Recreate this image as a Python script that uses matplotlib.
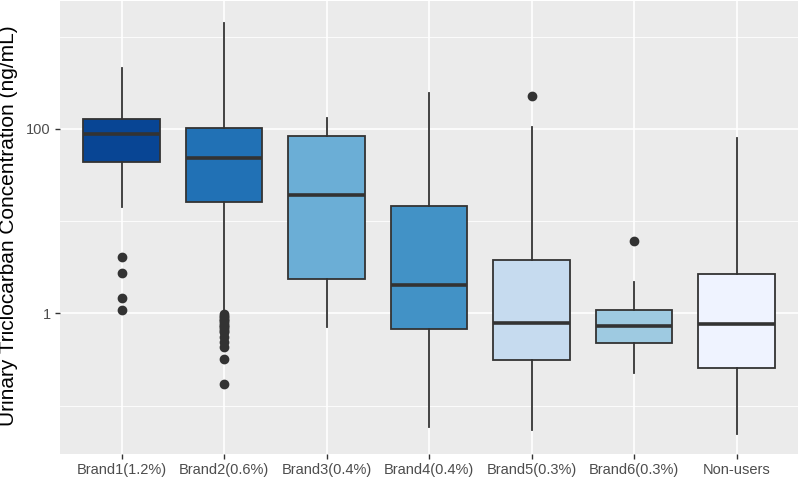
import matplotlib
matplotlib.use("Agg")
import matplotlib.pyplot as plt
import numpy as np

categories = ["Brand1(1.2%)", "Brand2(0.6%)", "Brand3(0.4%)", "Brand4(0.4%)",
              "Brand5(0.3%)", "Brand6(0.3%)", "Non-users"]
# box statistics in log10(ng/mL)
whisk_lo = [1.153, 0.036, -0.145, -1.232, -1.269, -0.642, -1.305]
q1       = [1.639, 1.203, 0.369, -0.174, -0.506, -0.321, -0.593]
median   = [1.949, 1.686, 1.279, 0.306, -0.102, -0.137, -0.112]
q3       = [2.103, 2.007, 1.927, 1.163, 0.576, 0.033, 0.432]
whisk_hi = [2.659, 3.149, 2.118, 2.385, 2.025, 0.342, 1.902]
outliers = [
    [0.616, 0.438, 0.165, 0.039],
    [-0.008, -0.024, -0.040, -0.056, -0.072, -0.088, -0.105, -0.121, -0.137,
     -0.153, -0.170, -0.186, -0.202, -0.256, -0.311, -0.365, -0.494, -0.765],
    [], [], [2.357], [0.782], [],
]
colors = ["#084594", "#2171B5", "#6BAED6", "#4292C6", "#C6DBEF", "#9ECAE1", "#EFF3FF"]
yticks = [1, 100]
yminor = [0.1, 10, 1000]

plt.rcParams['font.family'] = ['Liberation Sans', 'DejaVu Sans']

fig = plt.figure(figsize=(8, 4.78), dpi=100)
ax = fig.add_axes([60/800, 24/478, 738/800, 453/478])
ax.set_facecolor("#EBEBEB")

stats = []
for i, c in enumerate(categories):
    stats.append(dict(
        whislo=10**whisk_lo[i], q1=10**q1[i], med=10**median[i],
        q3=10**q3[i], whishi=10**whisk_hi[i],
        fliers=[10**v for v in outliers[i]], label=c))

pos = np.arange(1, len(categories) + 1)
ec = "#333333"
bp = ax.bxp(stats, positions=pos, widths=0.75, patch_artist=True,
            showcaps=False,
            boxprops=dict(edgecolor=ec, linewidth=1.3),
            medianprops=dict(color=ec, linewidth=2.6, solid_capstyle='butt'),
            whiskerprops=dict(color=ec, linewidth=1.3),
            flierprops=dict(marker='o', markersize=6, markerfacecolor=ec,
                            markeredgecolor=ec, linestyle='none'))
for patch, col in zip(bp['boxes'], colors):
    patch.set_facecolor(col)
for artist in bp['boxes'] + bp['medians'] + bp['whiskers'] + bp['fliers']:
    artist.set_zorder(3)

ax.set_yscale('log')
ax.set_ylim(10**(-1.525), 10**3.387)
ax.set_xlim(0.4, len(categories) + 0.6)

ax.set_yticks(yticks)
ax.set_yticklabels([str(t) for t in yticks])
ax.set_yticks(yminor, minor=True)
ax.yaxis.set_minor_formatter(matplotlib.ticker.NullFormatter())
ax.set_xticks(pos)
ax.set_xticklabels(categories)

ax.grid(True, which='major', color='white', linewidth=1.2, zorder=0)
ax.grid(True, which='minor', axis='y', color='white', linewidth=0.6, zorder=0)
ax.set_axisbelow(True)
ax.tick_params(axis='both', which='major', length=3.5, width=1.0, color=ec,
               labelcolor="#4D4D4D", labelsize=10.5, pad=3)
ax.tick_params(axis='y', which='minor', length=0)
for s in ax.spines.values():
    s.set_visible(False)

ax.set_ylabel("Urinary Triclocarban Concentration (ng/mL)", fontsize=15,
              color="black")
ax.yaxis.set_label_coords(-42/738, 0.505)

fig.savefig("out.png", dpi=100)
